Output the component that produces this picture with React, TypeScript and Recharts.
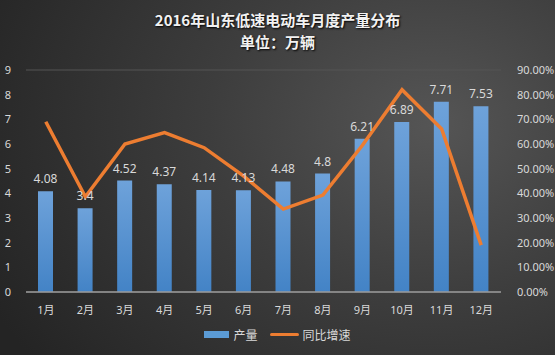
import React from "react";
import {
  ComposedChart,
  Bar,
  Line,
  XAxis,
  YAxis,
  CartesianGrid,
  LabelList,
} from "recharts";

const months = ["1月", "2月", "3月", "4月", "5月", "6月", "7月", "8月", "9月", "10月", "11月", "12月"];
const output = [4.08, 3.4, 4.52, 4.37, 4.14, 4.13, 4.48, 4.8, 6.21, 6.89, 7.71, 7.53];
const growth = [0.69, 0.386, 0.6, 0.646, 0.585, 0.47, 0.336, 0.393, 0.595, 0.82, 0.661, 0.19];
const leftTicks = [0, 1, 2, 3, 4, 5, 6, 7, 8, 9];
const rightTicks = [0, 0.1, 0.2, 0.3, 0.4, 0.5, 0.6, 0.7, 0.8, 0.9];

const FONT = '"Noto Sans", "Noto Sans CJK SC", sans-serif';
const TEXT = "#d9d9d9";

const data = months.map((m, i) => ({ month: m, output: output[i], growth: growth[i] }));

export default function App() {
  return (
    <div
      style={{
        position: "absolute",
        left: 0,
        top: 0,
        width: 555,
        height: 355,
        background:
          "radial-gradient(ellipse 90% 110% at 78% 35%, #555555 0%, #3d3d3d 45%, #242424 100%)",
        fontFamily: FONT,
        overflow: "hidden",
      }}
    >
      <div
        style={{
          position: "absolute",
          top: 9,
          left: 0,
          width: 555,
          textAlign: "center",
          color: "#f2f2f2",
          fontWeight: "bold",
          fontSize: 15,
          lineHeight: "22px",
          textShadow: "1px 1px 2px #000",
          fontFamily: '"Noto Sans CJK SC", sans-serif',
        }}
      >
        <div>2016年山东低速电动车月度产量分布</div>
        <div>单位：万辆</div>
      </div>

      <ComposedChart
        width={555}
        height={355}
        data={data}
        margin={{ top: 70, right: 0, left: 0, bottom: 33 }}
        style={{ position: "absolute", left: 0, top: 0 }}
      >
        <defs>
          <linearGradient id="barFill" x1="0" y1="0" x2="0" y2="1">
            <stop offset="0%" stopColor="#6ea2da" />
            <stop offset="100%" stopColor="#4383c6" />
          </linearGradient>
        </defs>
        <CartesianGrid vertical={false} stroke="#555555" strokeWidth={1} />
        <XAxis
          dataKey="month"
          height={30}
          tickLine={false}
          axisLine={{ stroke: "#9a9a9a", strokeWidth: 1.5 }}
          tick={{ fill: TEXT, fontSize: 11 }}
          tickMargin={8}
          interval={0}
        />
        <YAxis
          yAxisId="left"
          width={26}
          domain={[0, 9]}
          ticks={leftTicks}
          tickLine={false}
          axisLine={false}
          tick={{ fill: TEXT, fontSize: 11 }}
          tickMargin={9}
        />
        <YAxis
          yAxisId="right"
          orientation="right"
          width={54}
          domain={[0, 0.9]}
          ticks={rightTicks}
          tickLine={false}
          axisLine={false}
          tick={{ fill: TEXT, fontSize: 11, textAnchor: "start" }}
          tickMargin={10}
          tickFormatter={(v: number) => `${(v * 100).toFixed(2)}%`}
        />
        <Bar
          yAxisId="left"
          dataKey="output"
          fill="url(#barFill)"
          barSize={15}
          isAnimationActive={false}
        >
          <LabelList dataKey="output" position="top" offset={8} fill={TEXT} fontSize={12} />
        </Bar>
        <Line
          yAxisId="right"
          dataKey="growth"
          stroke="#ed7d31"
          strokeWidth={3.5}
          dot={false}
          activeDot={false}
          isAnimationActive={false}
        />
      </ComposedChart>

      <div
        style={{
          position: "absolute",
          top: 326,
          left: 0,
          width: 555,
          display: "flex",
          justifyContent: "center",
          alignItems: "center",
          color: TEXT,
          fontSize: 12,
          fontFamily: '"Noto Sans CJK SC", sans-serif',
        }}
      >
        <span style={{ display: "inline-block", width: 25, height: 7, background: "#5b9bd5", marginRight: 4 }} />
        <span style={{ marginRight: 12 }}>产量</span>
        <span style={{ display: "inline-block", width: 29, height: 3.5, background: "#ed7d31", marginRight: 4, borderRadius: 2 }} />
        <span>同比增速</span>
      </div>
    </div>
  );
}
